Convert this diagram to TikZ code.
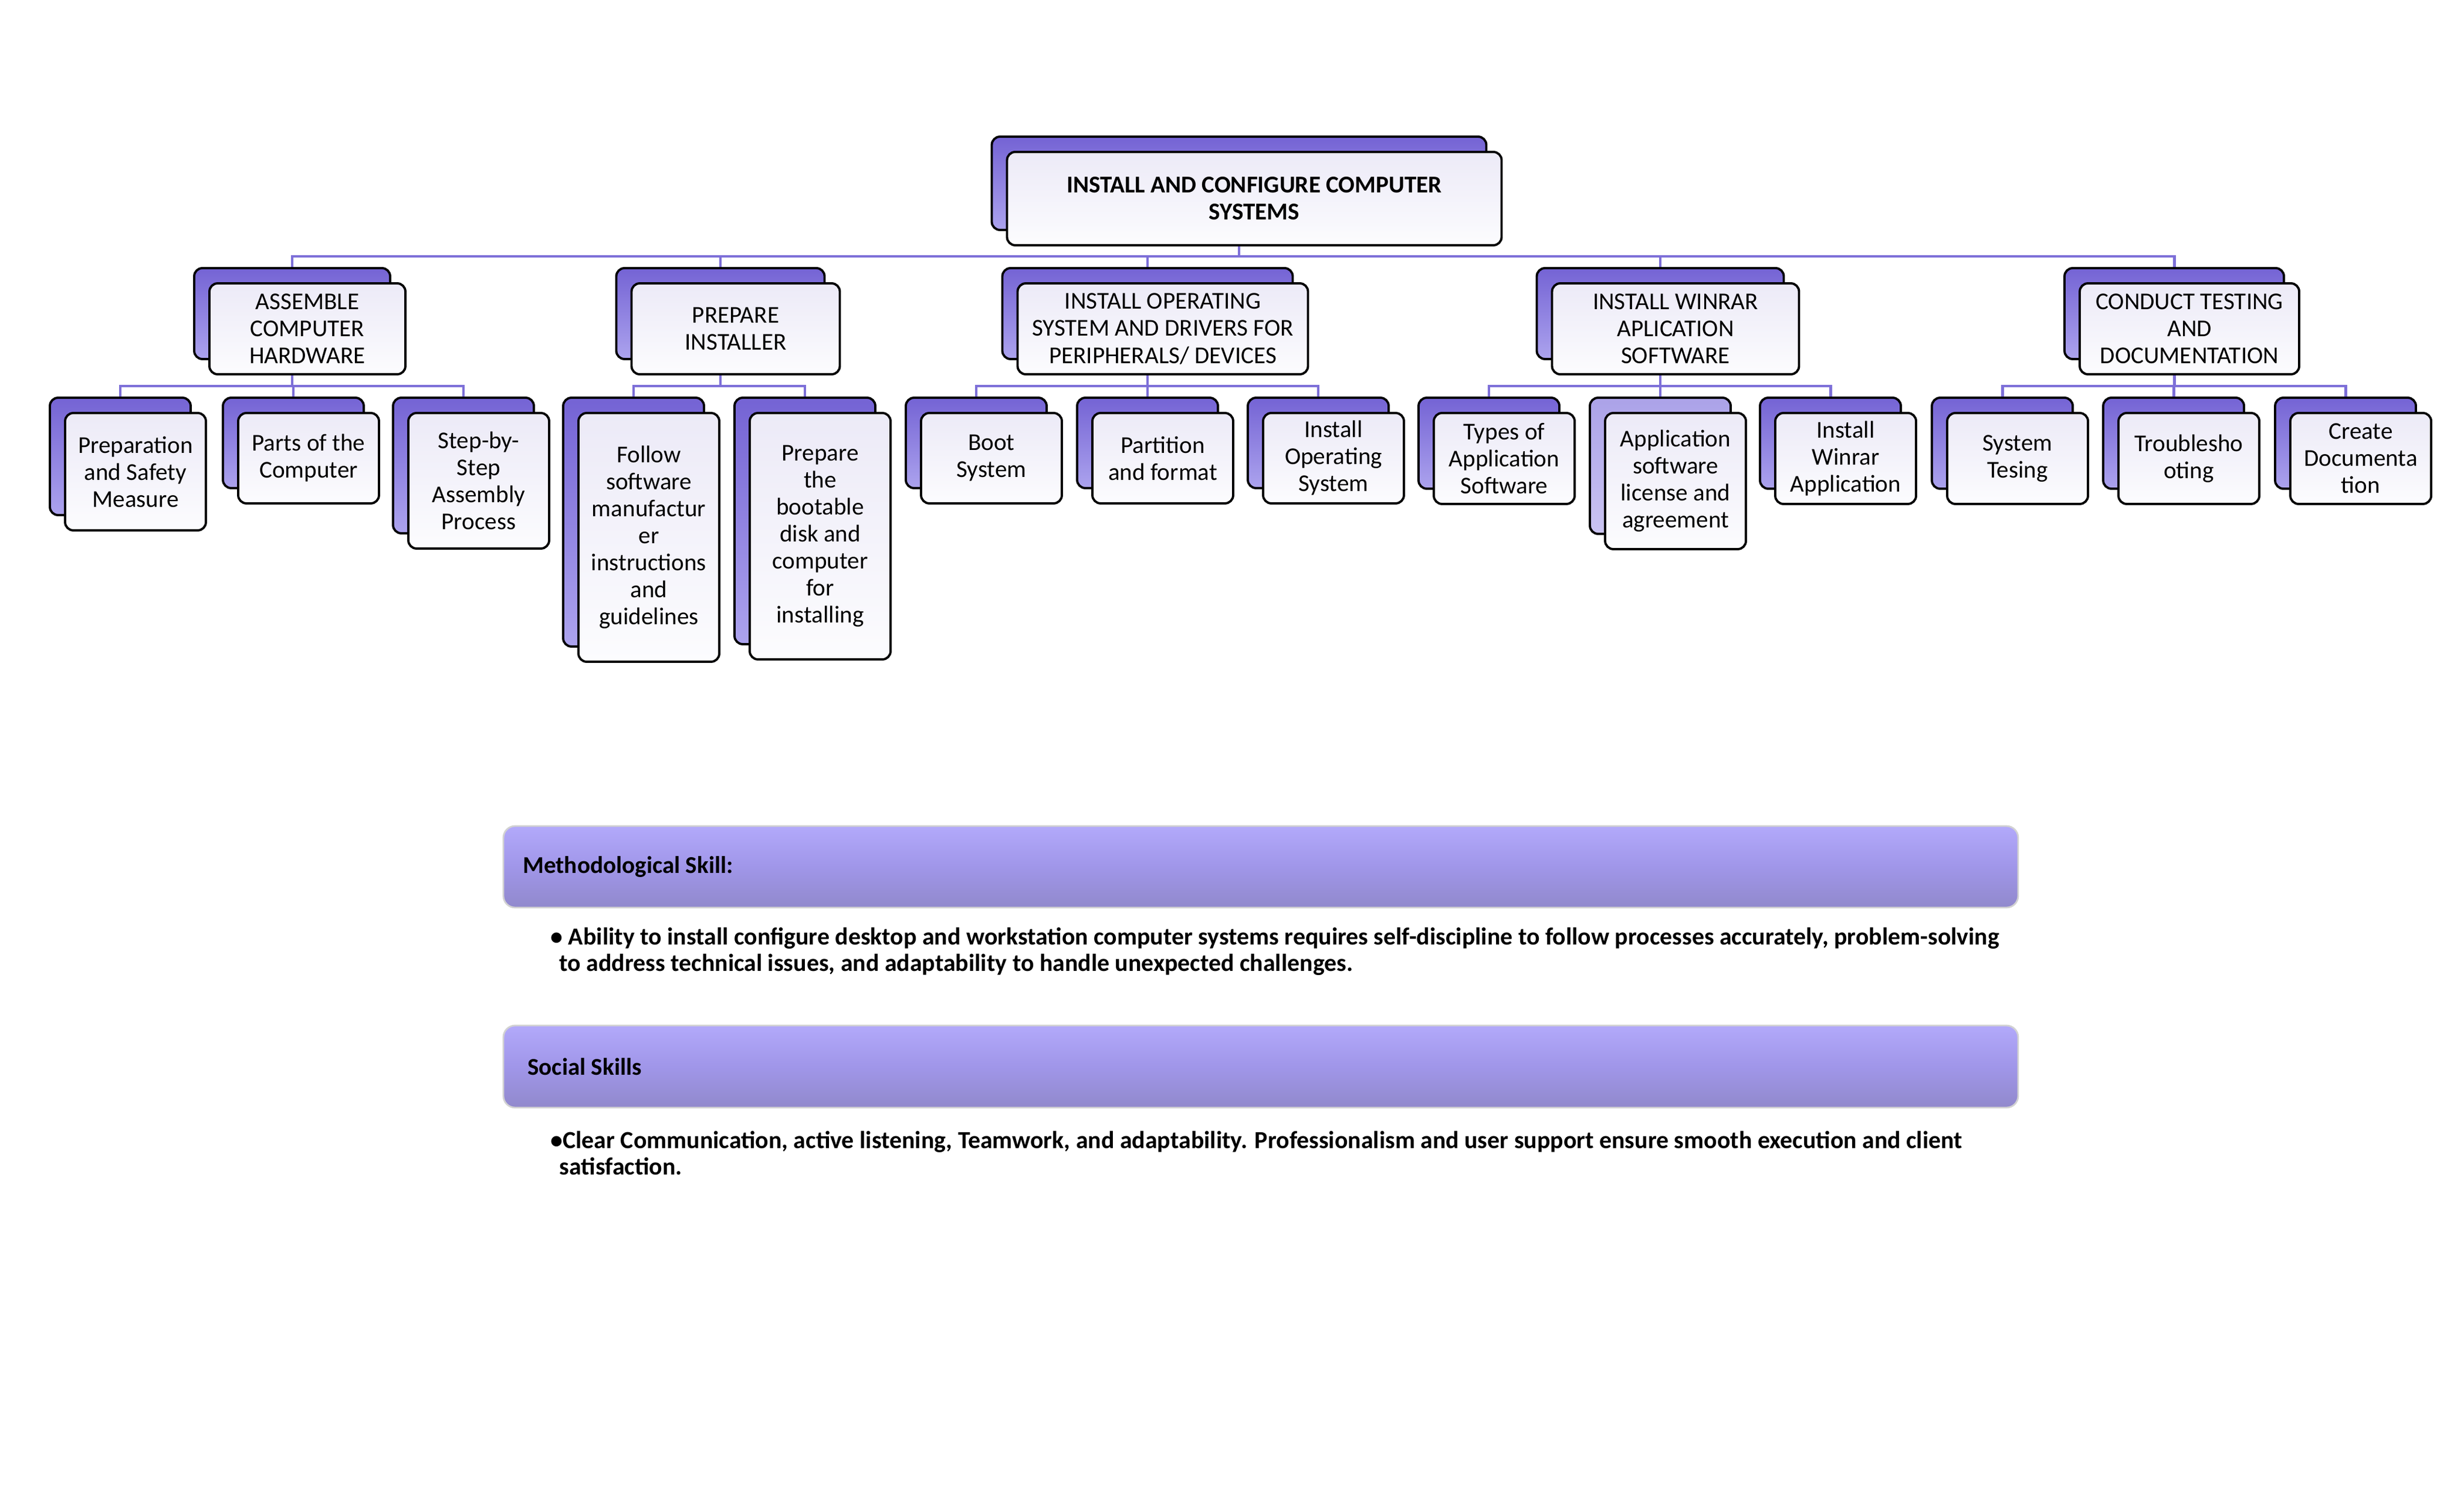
\documentclass[tikz,border=0pt]{standalone}
\usepackage{fontspec}
\setmainfont{Carlito}
\usetikzlibrary{backgrounds}

\definecolor{linkc}{HTML}{7D6FD8}
\definecolor{backtop}{HTML}{7463D4}
\definecolor{backbot}{HTML}{ACA3EE}
\definecolor{palebacktop}{HTML}{ABA2E8}
\definecolor{palebackbot}{HTML}{CAC4F2}
\definecolor{facetop}{HTML}{ECEAF7}
\definecolor{facebot}{HTML}{FCFCFE}
\definecolor{bartop}{HTML}{B2A9FA}
\definecolor{barmid}{HTML}{A096E9}
\definecolor{barbot}{HTML}{9189CC}

\newcommand\cardfont{\fontsize{11.7}{13.1}\selectfont}

\tikzset{
	dims/.style 2 args={minimum width=#1cm, minimum height=#2cm},
	back/.style={draw=black, line width=1.1pt, rounded corners=1.4mm,
		top color=backtop, bottom color=backbot, inner sep=0pt},
	paleback/.style={back, top color=palebacktop, bottom color=palebackbot},
	front/.style={draw=black, line width=1.1pt, rounded corners=1.4mm,
		top color=facetop, bottom color=facebot, inner sep=0pt,
		align=center, font=\cardfont},
	link/.style={draw=linkc, line width=1.4pt},
	bar/.style={draw=gray!35, line width=0.8pt, rounded corners=2mm,
		top color=bartop, bottom color=barbot, middle color=barmid},
	bartitle/.style={anchor=west, inner sep=0pt, font=\cardfont\bfseries},
	skilltext/.style={anchor=west, inner sep=0pt, align=left,
		font=\fontsize{11.9}{12.8}\selectfont\bfseries}
}

\begin{document}
\begin{tikzpicture}
	\useasboundingbox (0,0) rectangle (42,-25.5);

	% root
	\node[back, dims={8.43}{1.59}] (topB) at (21.12,-3.125) {};
	\node[front, dims={8.43}{1.59}, font=\cardfont\bfseries] (top) at ([shift={(0.26,-0.26)}]topB.center) {INSTALL AND CONFIGURE COMPUTER\\SYSTEMS};

	% first level
	\node[back, dims={3.34}{1.55}] (hwB) at (4.98,-5.345) {};
	\node[front, dims={3.34}{1.55}] (hw) at ([shift={(0.26,-0.26)}]hwB.center) {ASSEMBLE\\COMPUTER\\HARDWARE};
	\node[back, dims={3.55}{1.55}] (piB) at (12.28,-5.345) {};
	\node[front, dims={3.55}{1.55}] (pi) at ([shift={(0.26,-0.26)}]piB.center) {PREPARE\\INSTALLER};
	\node[back, dims={4.95}{1.55}] (osB) at (19.56,-5.345) {};
	\node[front, dims={4.95}{1.55}] (os) at ([shift={(0.26,-0.26)}]osB.center) {INSTALL OPERATING\\SYSTEM AND DRIVERS FOR\\PERIPHERALS/ DEVICES};
	\node[back, dims={4.21}{1.55}] (wrB) at (28.30,-5.345) {};
	\node[front, dims={4.21}{1.55}] (wr) at ([shift={(0.26,-0.26)}]wrB.center) {INSTALL WINRAR\\APLICATION\\SOFTWARE};
	\node[back, dims={3.74}{1.55}] (ctB) at (37.06,-5.345) {};
	\node[front, dims={3.74}{1.55}] (ct) at ([shift={(0.26,-0.26)}]ctB.center) {CONDUCT TESTING\\AND\\DOCUMENTATION};

	% second level
	\node[back, dims={2.40}{2.00}] (psB) at (2.05,-7.78) {};
	\node[front, dims={2.40}{2.00}] (ps) at ([shift={(0.26,-0.26)}]psB.center) {Preparation\\and Safety\\Measure};
	\node[back, dims={2.40}{1.54}] (pcB) at (5.00,-7.55) {};
	\node[front, dims={2.40}{1.54}] (pc) at ([shift={(0.26,-0.26)}]pcB.center) {Parts of the\\Computer};
	\node[back, dims={2.40}{2.31}] (saB) at (7.90,-7.935) {};
	\node[front, dims={2.40}{2.31}] (sa) at ([shift={(0.26,-0.26)}]saB.center) {Step-by-\\Step\\Assembly\\Process};

	\node[back, dims={2.40}{4.24}] (fsB) at (10.80,-8.90) {};
	\node[front, dims={2.40}{4.24}] (fs) at ([shift={(0.26,-0.26)}]fsB.center) {Follow\\software\\manufactur\\er\\instructions\\and\\guidelines};
	\node[back, dims={2.40}{4.20}] (pbB) at (13.72,-8.88) {};
	\node[front, dims={2.40}{4.20}] (pb) at ([shift={(0.26,-0.26)}]pbB.center) {Prepare\\the\\bootable\\disk and\\computer\\for\\installing};

	\node[back, dims={2.40}{1.54}] (bsB) at (16.64,-7.55) {};
	\node[front, dims={2.40}{1.54}] (bs) at ([shift={(0.26,-0.26)}]bsB.center) {Boot\\System};
	\node[back, dims={2.40}{1.54}] (pfB) at (19.56,-7.55) {};
	\node[front, dims={2.40}{1.54}] (pf) at ([shift={(0.26,-0.26)}]pfB.center) {Partition\\and format};
	\node[back, dims={2.40}{1.54}] (ioB) at (22.47,-7.55) {};
	\node[front, dims={2.40}{1.54}] (io) at ([shift={(0.26,-0.26)}]ioB.center) {Install\\Operating\\System};

	\node[back, dims={2.40}{1.55}] (taB) at (25.38,-7.555) {};
	\node[front, dims={2.40}{1.55}] (ta) at ([shift={(0.26,-0.26)}]taB.center) {Types of\\Application\\Software};
	\node[paleback, dims={2.40}{2.32}] (alB) at (28.30,-7.94) {};
	\node[front, dims={2.40}{2.32}] (al) at ([shift={(0.26,-0.26)}]alB.center) {Application\\software\\license and\\agreement};
	\node[back, dims={2.40}{1.55}] (iwB) at (31.20,-7.555) {};
	\node[front, dims={2.40}{1.55}] (iw) at ([shift={(0.26,-0.26)}]iwB.center) {Install\\Winrar\\Application};

	\node[back, dims={2.40}{1.55}] (stB) at (34.13,-7.555) {};
	\node[front, dims={2.40}{1.55}] (st) at ([shift={(0.26,-0.26)}]stB.center) {System\\Tesing};
	\node[back, dims={2.40}{1.55}] (trB) at (37.05,-7.555) {};
	\node[front, dims={2.40}{1.55}] (tr) at ([shift={(0.26,-0.26)}]trB.center) {Troublesho\\oting};
	\node[back, dims={2.40}{1.55}] (cdB) at (39.98,-7.555) {};
	\node[front, dims={2.40}{1.55}] (cd) at ([shift={(0.26,-0.26)}]cdB.center) {Create\\Documenta\\tion};

	% connectors
	\begin{scope}[on background layer]
		\coordinate (bus1) at (0,-4.37);
		\coordinate (bus2) at (0,-6.58);
		\draw[link] (topB.center) -- (topB.center |- bus1);
		\draw[link] (hwB.north) |- (ctB.north |- bus1) -- (ctB.north);
		\draw[link] (piB.north) -- (piB.north |- bus1);
		\draw[link] (osB.north) -- (osB.north |- bus1);
		\draw[link] (wrB.north) -- (wrB.north |- bus1);

		\draw[link] (hwB.center) -- (hwB.center |- bus2);
		\draw[link] (psB.north) |- (saB.north |- bus2) -- (saB.north);
		\draw[link] (pcB.north) -- (pcB.north |- bus2);

		\draw[link] (piB.center) -- (piB.center |- bus2);
		\draw[link] (fsB.north) |- (pbB.north |- bus2) -- (pbB.north);

		\draw[link] (osB.center) -- (osB.center |- bus2);
		\draw[link] (bsB.north) |- (ioB.north |- bus2) -- (ioB.north);
		\draw[link] (pfB.north) -- (pfB.north |- bus2);

		\draw[link] (wrB.center) -- (wrB.center |- bus2);
		\draw[link] (taB.north) |- (iwB.north |- bus2) -- (iwB.north);
		\draw[link] (alB.north) -- (alB.north |- bus2);

		\draw[link] (ctB.center) -- (ctB.center |- bus2);
		\draw[link] (stB.north) |- (cdB.north |- bus2) -- (cdB.north);
		\draw[link] (trB.north) -- (trB.north |- bus2);
	\end{scope}

	% skills
	\node[bar, dims={25.82}{1.39}] (ms) at (21.49,-14.775) {};
	\node[bartitle] (mst) at ([xshift=0.34cm]ms.west) {Methodological Skill:};
	\node[skilltext] (msx) at (9.38,-16.22) {• Ability to install configure desktop and workstation computer systems requires self-discipline to follow processes accurately, problem-solving\\\hspace*{0.15cm}to address technical issues, and adaptability to handle unexpected challenges.};

	\node[bar, dims={25.82}{1.40}] (ss) at (21.49,-18.18) {};
	\node[bartitle] (sst) at ([xshift=0.42cm]ss.west) {Social Skills};
	\node[skilltext] (ssx) at (9.38,-19.655) {•Clear Communication, active listening, Teamwork, and adaptability. Professionalism and user support ensure smooth execution and client\\\hspace*{0.15cm}satisfaction.};
\end{tikzpicture}
\end{document}
